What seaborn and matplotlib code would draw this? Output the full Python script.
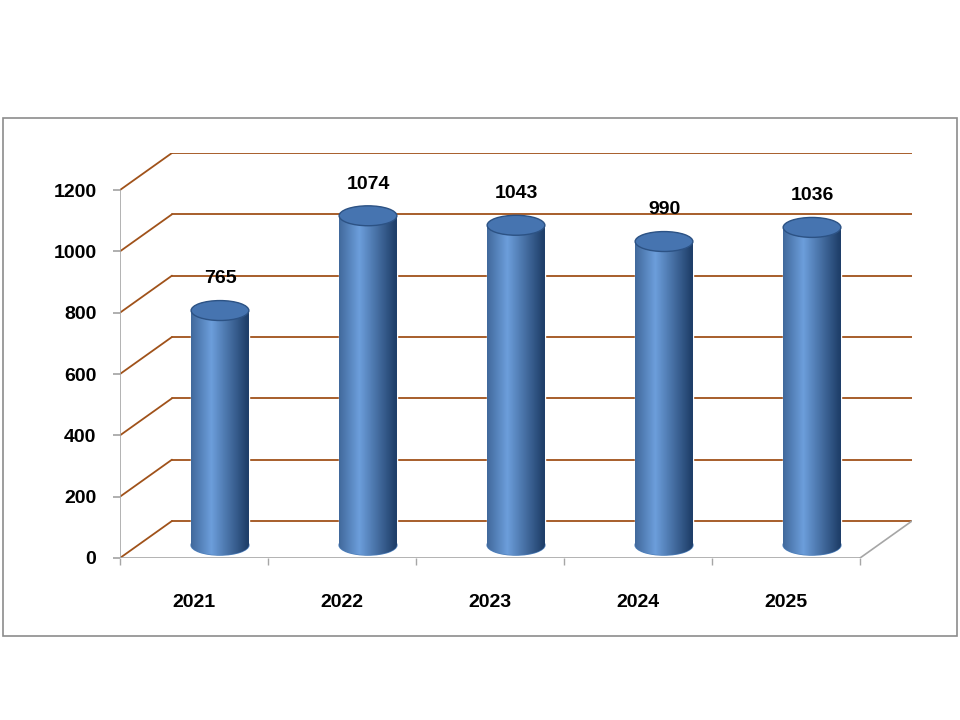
import numpy as np
import pandas as pd
import seaborn as sns
import matplotlib
matplotlib.use("Agg")
import matplotlib.pyplot as plt
from matplotlib.patches import Ellipse, Rectangle

years = ["2021", "2022", "2023", "2024", "2025"]
values = [765, 1074, 1043, 990, 1036]
yticks = [0, 200, 400, 600, 800, 1000, 1200]

sns.set_theme(style="white")
plt.rcParams['font.family'] = ['Liberation Sans', 'DejaVu Sans']

fig = plt.figure(figsize=(9.6, 7.2), dpi=100)
ax = fig.add_axes([0.125, 0.225, 0.825, 0.5625])
df = pd.DataFrame({"year": years, "value": values})

dx, dy = 0.351, 120.7      # depth offset
base = 42
bw = 0.39
sns.barplot(data=df, x="year", y="value", color="#4F81BD", width=bw,
            bottom=base, ax=ax, zorder=3, saturation=1)

grid_c = "#A0521A"
for v in yticks:
    ax.plot([-0.5 + dx, 4.851], [v + dy, v + dy], color=grid_c, lw=1.3, zorder=1)
    ax.plot([-0.5, -0.5 + dx], [v, v + dy], color=grid_c, lw=1.3, zorder=1)
ax.plot([-0.5, 4.5], [0, 0], color="#A6A6A6", lw=1.2, zorder=2)
ax.plot([4.5, 4.851], [0, dy], color="#A6A6A6", lw=1.2, zorder=2)
ax.plot([-0.5, -0.5], [0, 1200], color="#A6A6A6", lw=1.2, zorder=2)

grad = np.linspace(0, 1, 200)
prof = 1 - np.abs(grad - 0.35) * 1.6
prof = np.clip(prof, 0, 1)[None, :]
cmap = matplotlib.colors.LinearSegmentedColormap.from_list("cyl", ["#1F3F6A", "#6C9EDB"])
for p, v in zip(ax.patches, values):
    p.set_x(p.get_x() + dx / 2)
    x0, w = p.get_x(), p.get_width()
    xc = x0 + w / 2
    bottom_e = Ellipse((xc, base), w, 65, color="#4F81BD", zorder=3.4)
    ax.add_patch(bottom_e)
    im0 = ax.imshow(prof, extent=[x0, x0 + w, base - 40, base + 40], aspect="auto",
                    cmap=cmap, vmin=0, vmax=1, zorder=3.45)
    im0.set_clip_path(bottom_e)
    im = ax.imshow(prof, extent=[x0, x0 + w, base, base + v], aspect="auto",
                   cmap=cmap, vmin=0, vmax=1, zorder=3.5)
    im.set_clip_path(p)
    ax.add_patch(Ellipse((xc, base + v), w, 65, facecolor="#4674B0",
                         edgecolor="#2C5284", lw=1, zorder=4))
    ax.text(xc, v + 145, str(v), ha="center", va="center", fontsize=14,
            fontweight="bold", color="black")

ax.set_xlim(-0.5, 4.851)
ax.set_ylim(0, 1200 + dy)
for s in ax.spines.values():
    s.set_visible(False)
ax.set_yticks(yticks)
ax.set_yticklabels([str(t) for t in yticks], fontsize=14, fontweight="bold", color="black")
ax.set_xticks(range(5))
ax.set_xticklabels(years, fontsize=14, fontweight="bold", color="black")
ax.set_xticks(np.arange(-0.5, 5, 1), minor=True)
ax.tick_params(axis="y", left=True, length=5, color="#A6A6A6", pad=12)
ax.tick_params(axis="x", which="major", length=0, pad=26)
ax.tick_params(axis="x", which="minor", bottom=True, length=5, color="#A6A6A6")
ax.set_xlabel("")
ax.set_ylabel("")
ax.grid(False)

fig.patches.append(Rectangle((3 / 960, 1 - 636 / 720), 954 / 960, 518 / 720,
                             transform=fig.transFigure, fill=False,
                             edgecolor="#8C8C8C", lw=1.2))
fig.savefig("out.png", dpi=100)
